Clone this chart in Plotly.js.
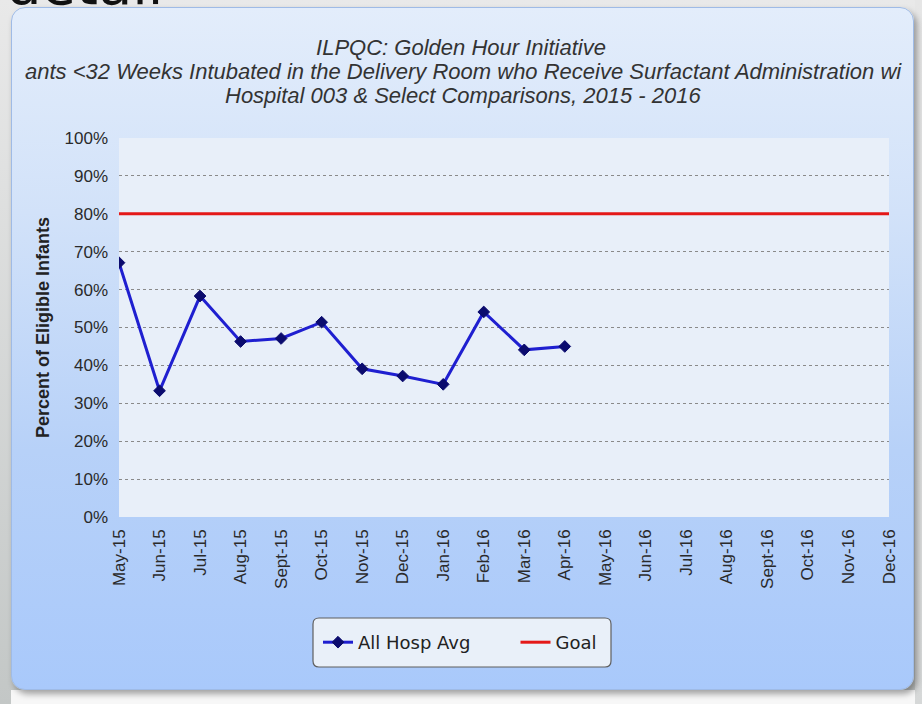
<!DOCTYPE html>
<html>
<head>
<meta charset="utf-8">
<script src="https://cdn.plot.ly/plotly-3.0.1.min.js"></script>
<style>
  html, body { margin:0; padding:0; width:922px; height:704px; overflow:hidden; }
  body { background: linear-gradient(#e9e9e9, #c3c7c6); position:relative; font-family:"DejaVu Sans", sans-serif; }
  #bottomband { position:absolute; left:11px; top:690px; width:911px; height:14px; background:#f7f7f7; }
  #rightband { position:absolute; left:915px; top:0; width:7px; height:704px; background:linear-gradient(#e6e6e6,#d6d8d8); }
  #panel { position:absolute; left:11px; top:7px; width:903px; height:683px; border-radius:14px;
           background: linear-gradient(#e3edfb 0%, #d2e2f9 30%, #b7d1f8 65%, #a9c9fb 100%);
           border:1px solid #9fbbe6; box-sizing:border-box;
           box-shadow: 3px 4px 6px rgba(0,0,0,0.35); }
  #detail { position:absolute; left:6px; top:-43px; font-size:56px; line-height:56px; color:#111;
            font-family:"DejaVu Sans", sans-serif; white-space:nowrap; }
  #chart { position:absolute; left:0; top:0; width:922px; height:704px; }
</style>
</head>
<body>
<div id="bottomband"></div>
<div id="rightband"></div>
<div id="panel"></div>
<div id="detail">detail</div>
<div id="chart"></div>
<script>
// ---- data ----
const months = ['May-15','Jun-15','Jul-15','Aug-15','Sept-15','Oct-15','Nov-15','Dec-15','Jan-16','Feb-16','Mar-16','Apr-16',
                'May-16','Jun-16','Jul-16','Aug-16','Sept-16','Oct-16','Nov-16','Dec-16'];
const allHospAvg = [67.1, 33.3, 58.3, 46.3, 47.1, 51.4, 39.1, 37.2, 35.0, 54.1, 44.1, 45.0];
const goal = [80,80,80,80,80,80,80,80,80,80,80,80,80,80,80,80,80,80,80,80];
const yTicks = [0,10,20,30,40,50,60,70,80,90,100];
const yTickLabels = ['0%','10%','20%','30%','40%','50%','60%','70%','80%','90%','100%'];
const titleLines = ['ILPQC: Golden Hour Initiative',
                    'ants &lt;32 Weeks Intubated in the Delivery Room who Receive Surfactant Administration wi',
                    'Hospital 003 &amp; Select Comparisons, 2015 - 2016'];
const seriesNames = ['All Hosp Avg', 'Goal'];
const yTitle = 'Percent of Eligible Infants';

// ---- traces ----
const nb = '\u00a0';
const traces = [
  {
    x: months.slice(0, allHospAvg.length), y: allHospAvg, name: seriesNames[0] + nb.repeat(7),
    type: 'scatter', mode: 'lines+markers',
    line: { color: '#1f1fd0', width: 3 },
    marker: { symbol: 'diamond', size: 9, color: '#0b0b6e', line: { color: '#0b0b6e', width: 1 } }
  },
  {
    x: months, y: goal, name: seriesNames[1],
    type: 'scatter', mode: 'lines',
    line: { color: '#e41818', width: 3 }
  }
];

const W = 922, H = 704, L = 119, R = 33, T = 138, B = 187;
const pw = W - L - R, ph = H - T - B;
function px2x(p) { return (p - L) / pw; }
function py2y(p) { return (H - B - p) / ph; }
// rounded legend box (decoration)
function roundRect(x0, y0, x1, y1, r) {
  const rx = r / pw, ry = r / ph;
  const X0 = px2x(x0), X1 = px2x(x1), Y0 = py2y(y0), Y1 = py2y(y1);
  return `M ${X0+rx},${Y0} L ${X1-rx},${Y0} Q ${X1},${Y0} ${X1},${Y0-ry} L ${X1},${Y1+ry} Q ${X1},${Y1} ${X1-rx},${Y1} ` +
         `L ${X0+rx},${Y1} Q ${X0},${Y1} ${X0},${Y1+ry} L ${X0},${Y0-ry} Q ${X0},${Y0} ${X0+rx},${Y0} Z`;
}

const titleFont = { family: 'Liberation Sans, Arial, sans-serif', size: 22, color: '#333', style: 'italic' };

const layout = {
  width: W, height: H,
  margin: { l: L, r: R, t: T, b: B, pad: 0 },
  paper_bgcolor: 'rgba(0,0,0,0)',
  plot_bgcolor: '#e8eff9',
  font: { family: 'Liberation Sans, Arial, sans-serif', color: '#333' },
  title: {
    text: titleLines[0],
    font: titleFont,
    x: 0.5, xanchor: 'center', y: 1 - 47 / H, yanchor: 'middle'
  },
  annotations: [
    { text: titleLines[1], xref: 'paper', yref: 'paper', x: px2x(463), y: py2y(71), xanchor: 'center', yanchor: 'middle',
      showarrow: false, font: titleFont },
    { text: titleLines[2], xref: 'paper', yref: 'paper', x: px2x(463), y: py2y(95), xanchor: 'center', yanchor: 'middle',
      showarrow: false, font: titleFont }
  ],
  xaxis: {
    type: 'category', categoryorder: 'array', categoryarray: months,
    range: [0, months.length - 1],
    showgrid: false, zeroline: false, showline: false,
    tickangle: -90, ticks: '', ticklabelstandoff: 8,
    tickfont: { family: 'Liberation Sans, Arial, sans-serif', size: 17, color: '#2a2a2a' }
  },
  yaxis: {
    range: [0, 100], tickmode: 'array', tickvals: yTicks, ticktext: yTickLabels,
    showgrid: true, gridcolor: '#8a8a8a', gridwidth: 1, griddash: '3px,3px',
    zeroline: false, showline: false, ticks: '', ticklabelstandoff: 10,
    tickfont: { family: 'Liberation Sans, Arial, sans-serif', size: 17, color: '#2a2a2a' },
    title: { text: yTitle, standoff: 10,
             font: { family: 'Liberation Sans, Arial, sans-serif', size: 18, color: '#222', weight: 'bold' } }
  },
  showlegend: true,
  legend: {
    orientation: 'h', x: px2x(318), xanchor: 'left', y: py2y(642.5), yanchor: 'middle',
    bgcolor: 'rgba(0,0,0,0)', borderwidth: 0,
    font: { family: 'DejaVu Sans, sans-serif', size: 18, color: '#222' },
    itemwidth: 30
  },
  shapes: [
    { type: 'path', xref: 'paper', yref: 'paper', layer: 'below',
      path: roundRect(313, 618, 611, 667, 6),
      fillcolor: '#e9f0f9', line: { color: '#5f5f5f', width: 1.2 } }
  ]
};

Plotly.newPlot('chart', traces, layout, { staticPlot: true, displayModeBar: false });
</script>
</body>
</html>
